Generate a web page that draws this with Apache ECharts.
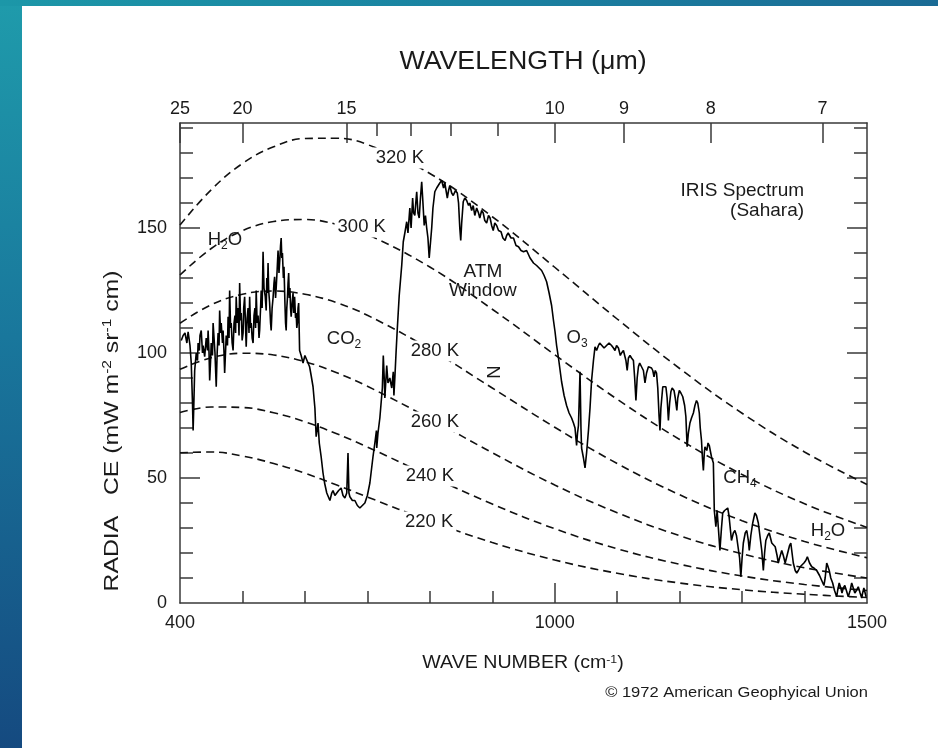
<!DOCTYPE html>
<html>
<head>
<meta charset="utf-8">
<script src="https://cdn.jsdelivr.net/npm/echarts@6/dist/echarts.min.js"></script>
<style>
html,body{margin:0;padding:0;width:938px;height:748px;overflow:hidden;}
body{position:relative;background:linear-gradient(180deg,#1f9bab 0%,#19779c 45%,#154a80 100%);}
#topband{position:absolute;left:0;top:0;width:938px;height:6px;background:linear-gradient(90deg,#1c97a8 0%,#1a82a1 50%,#1a6b95 100%);}
#panel{position:absolute;left:22px;top:6px;width:916px;height:742px;background:#ffffff;}
#chart{position:absolute;left:0;top:0;width:938px;height:748px;}
</style>
</head>
<body>
<div id="topband"></div>
<div id="panel"></div>
<div id="chart"></div>
<script>
// ---------------- DATA ----------------
// Blackbody reference curves (radiance)
const planckNu = [400,450,500,550,600,650,700,800,900,1000,1100,1200,1300,1400,1500];
const curve320 = [151.2,165.3,175.8,182.5,185.8,185.9,183.4,171.8,154.5,134.3,113.6,93.8,75.9,60.4,47.4];
const curve300 = [131.2,141.8,148.9,152.6,153.4,151.5,147.4,134.4,117.5,99.3,81.5,65.4,51.4,39.7,30.2];
const curve280 = [111.9,119.3,123.5,124.8,123.5,120.2,115.1,101.6,86.0,70.3,55.8,43.3,32.9,24.6,18.1];
const curve260 = [93.5,98.1,99.9,99.2,96.5,92.2,86.7,73.8,60.1,47.2,36.1,26.9,19.7,14.1,10.0];
const curve240 = [76.2,78.4,78.2,76.1,72.5,67.8,62.4,50.8,39.6,29.7,21.7,15.5,10.8,7.4,5.0];
const curve220 = [60.1,60.4,58.8,55.8,51.9,47.3,42.4,32.8,24.2,17.2,11.9,8.0,5.3,3.5,2.2];
const curveSet = [curve320, curve300, curve280, curve260, curve240, curve220];
const curveLabels = ['320 K','300 K','280 K','260 K','240 K','220 K'];
const curveLabelNu = [752, 691, 808, 808, 800, 799];
const curveLabelVal = [178.0, 150.4, 100.8, 72.4, 50.8, 32.4];

// IRIS spectrum (Sahara)
const specNu = [402,405,408,411,413,416,418,420,421,422,423.5,426,428,429,431,432,434,436,437,439.5,442,444,445,446.5,447.5,449,450,452,453,455,456,458,459.5,461,462.5,463.5,465,466,468,469,470.5,471.5,473,474,476,477,478.5,479.5,481,482,483.5,485,486.5,488,489,490,491.5,493,494.5,495.5,497,498,499.5,501,502,503.5,505,506,507.5,509,510.5,511.5,513,514,515.5,517,518.5,520,521,522,523.5,525,526.5,527.5,529,530,531.5,533,534.5,536.5,538,539,540,541,542,543.5,545,546,547.5,549,550.5,551.5,553,554,555.5,557,558.5,560,561,562,563,564,565.5,566.5,567.5,568,569,570,571,572,573,574,575,576,577,578,579.5,581,582,583.5,585,586,587,588,589,590,591.5,594,597,600,602,605,607.5,610,613,616,618,621,623,626,629,631.5,635,640,643,645,648,650,654,658,661,664,667,669,670.5,672,676,680,684,688,692,696,700,704,709,712,714.5,715,717,720,722,724,725.5,727,728,731,733,736,739,741.5,742.5,744,746,748,751,755,757.5,760,763,765,768,770,772.5,774,776,777.5,779,781,783,785,787,789,791,793,795,797,799,801,803,805,808,811,813.5,816,819,822,824,826,828,830,832,835,837.5,841,844,846,848,849.5,851,853.5,856,859,862,864,867,869.5,872,875,878,880,883,885.5,888,891,894,896.5,899,901.5,904,907,910,914,917,920.5,923,925.5,930,934,938,942,946,950,955,960.5,966,971,975,979,983,987,991,995,998,1000.5,1003,1006,1011,1015,1019,1023,1027,1030,1032.5,1035,1036.5,1038,1040.5,1042,1043,1046,1048.5,1051,1054,1056.5,1059,1062,1064.5,1067,1070,1072,1075,1079,1083,1087,1091,1094,1096.5,1099,1102,1105,1107,1110,1112.5,1114,1116,1118,1120.5,1123,1126,1128,1130,1132,1134,1136,1139,1142,1144.5,1147,1150,1152,1155,1157,1159,1161,1163,1165,1167,1168.5,1170,1173,1176,1178,1180,1182,1184,1186,1188,1191,1193,1195.5,1197,1199.5,1202,1205,1208,1210,1212,1214,1216.5,1219,1222,1224.5,1227,1229,1231.5,1233,1235,1236.5,1238,1239.5,1240.5,1243.5,1245.5,1247.5,1249,1251,1254,1255.5,1258,1260,1262,1264.5,1267,1269,1272,1275,1277,1279,1281,1283,1286,1288.5,1291,1294,1296,1298,1300,1302,1305,1307.5,1310,1311.5,1314,1317,1320.5,1323,1326,1329,1331.5,1334,1336,1338,1341,1343.5,1345.5,1347.5,1350,1353,1356,1358,1360,1363.5,1366,1369,1371,1374,1376,1378,1380,1382,1385,1387.5,1390,1393,1396,1399,1402,1404.5,1408,1411.5,1415,1419.5,1424,1427.5,1431,1433,1435.5,1437,1439.5,1442,1445,1448,1451.5,1453,1455.5,1458,1460,1462,1464.5,1467,1470,1473,1475.5,1478,1480.5,1483,1486,1489,1491.5,1493,1495,1497,1498.5];
const specVal = [105,107,108,104,108.5,103,96,80,69,78,93,100,97,104,101,107,109,100,103,98.5,106,101,109,100,89,97,104,99,112,104,100,86.5,100,108,103,117,108,112,104,109,100,92,101,107,103,114.5,106,125,110,112,104,101,112,115,108,122.5,112,118,107,128,113,116,105,108,118,122.5,110,102.5,114,118,108,122.5,110,112,106,104,115,118,110,125,112,115,106,109,118,125,118,140.5,126,122.5,117,130,124,136,125,120,112,109,118,122,128,130.5,122,126,133,141,132,138,143,146,138,140,130,134.5,125,120,112,109,118,122,128,132,122,126,118,114.5,120,124,116,122.5,114,116,110,112,118,120,101,99,96,99,98.5,96,94.5,91,86.5,78,66.5,72,64,58.5,52,48,44,41,44,45,43,42.5,45,46,43,42,44,60,44,42.5,41,41,39,38,39,40,43,48,58.5,64,69,62,68,74,80,86,99,90,82,95,88,90,86,92.5,83,90,100.5,110,123,135,144.5,148,152.5,148,158,150,162,156,155,160,164.5,156,154,162,168.5,160,151,155,150,146,138,144,150,158,164.5,166,167,168,169,166,168,165,162,165,167,164,163,165,164,160,150,145,152,160.5,162,161,159,160,157,159,155,158,156,154,157,156,153,152,155,154,151,149,152,151,149,148.5,146,145,147,148,146,146,143,142.5,141,140.5,141,138,136,135,134,133,131,128.5,124,119,113,108.5,103,98,88.5,83,79,76,74,72,70,63,68,71,92.5,70,62,58,54,60,69,78,89,97,102.5,101,103,104,104,102,103,104,103,102,101,103,102,99,100,101,100.5,97,93,98,99,98,97,90,81,90,94.5,96,96,93,88,92,94.5,95,94,93,90.5,93,92,86,75,69,78,86.5,87,86.5,82,73,80,84.5,86,85,82,77,82,85,84,82.5,79,74.5,62.5,68,72,74,76,79,81,80,76,70,65,58,53,60,62.5,61,64,63,61,58.5,56,37,30.5,37,30,21,30,36,37,37,38,35,30,25,28,29,27,26.5,18,10.5,18,24,28,29,25,21,27,32,36,35,32,26,21,13,20,25,27,28,26,24,24,22.5,19,16,18,21,19,16,18,21,23,24,20,16,13,12,13,14.5,15,16,17,18.5,16,14.5,14,13,11,9,7,10,16,15,13,10,8,5,2.5,5,8,6,4,6,7,5,2.5,5,8,6,4,5,6.5,4,2,4,6,4,2.5];

// Axis ticks / labels
const waveNumberLabels = [400, 1000, 1500];
const waveNumberMinor = [500,600,700,800,900,1100,1200,1300,1400];
const waveNumberMajor = [1000];
const wavelengthMajor = [25,20,15,10,9,8,7];
const wavelengthMinor = [14,13,12,11];
const radianceLabels = [0,50,100,150];
const radianceMajor = [50,100,150];
const radianceMinor = [10,20,30,40,60,70,80,90,110,120,130,140,160,170,180,190];

// Text annotations inside the plot
const noteTexts = ['{n|H}{s|2}{n|O}','{n|CO}{s|2}','ATM\nWindow','{n|O}{s|3}','IRIS Spectrum\n(Sahara)','{n|CH}{s|4}','{n|H}{s|2}{n|O}','N'];
const noteNu = [472, 662.6, 885, 1035.7, 1399.2, 1296.7, 1437.6, 904.4];
const noteVal = [145.2, 105.6, 128.6, 106.2, 160.8, 50.2, 29.0, 92.4];

// ---------------- CHART ----------------
const FONT = '"Liberation Sans", Arial, Helvetica, sans-serif';
const INK = '#1a1a1a';
const AXC = '#3a3a3a';
const chart = echarts.init(document.getElementById('chart'), null, {renderer: 'canvas'});

const toNu = l => 10000 / l;
const wlMajorNu = wavelengthMajor.map(toNu);
const wlMinorNu = wavelengthMinor.map(toNu);

function pairs(xs, ys) { return xs.map((x, i) => [x, ys[i]]); }

const subRich = {
  n: {fontSize: 18.5, fontFamily: FONT, color: INK, opacity: 1, verticalAlign: 'middle', lineHeight: 24, textBorderWidth: 0},
  s: {fontSize: 12, fontFamily: FONT, color: INK, opacity: 1, verticalAlign: 'bottom', lineHeight: 24, textBorderWidth: 0}
};
const supRich = {
  n: {fontSize: 17.5, fontFamily: FONT, fill: INK, color: INK, verticalAlign: 'middle', lineHeight: 18},
  p: {fontSize: 11, fontFamily: FONT, fill: INK, color: INK, verticalAlign: 'top', lineHeight: 18}
};
const yRich = {
  n: {fontSize: 20, fontFamily: FONT, fill: INK, color: INK, verticalAlign: 'middle', lineHeight: 21},
  p: {fontSize: 12.5, fontFamily: FONT, fill: INK, color: INK, verticalAlign: 'top', lineHeight: 21}
};

const noLine = {show: false, onZero: false};
const baseX = {type: 'value', min: 400, max: 1500, gridIndex: 0, splitLine: {show: false}, axisPointer: {show: false}};
const baseY = {type: 'value', min: 0, max: 192, gridIndex: 0, splitLine: {show: false}, axisPointer: {show: false}};
const tickStyle = {color: AXC, width: 1.5};
const lineOn = {show: true, onZero: false, lineStyle: {color: AXC, width: 1.5}};

const xAxes = [
  Object.assign({}, baseX, {
    position: 'bottom', axisLine: lineOn,
    axisTick: {show: true, inside: true, length: 12, customValues: waveNumberMinor, lineStyle: tickStyle},
    axisLabel: {show: true, customValues: waveNumberLabels, margin: 11, fontSize: 18, fontFamily: FONT, color: INK,
      formatter: v => String(v)}
  }),
  Object.assign({}, baseX, {
    position: 'bottom', axisLine: noLine,
    axisTick: {show: true, inside: true, length: 20, customValues: waveNumberMajor, lineStyle: tickStyle},
    axisLabel: {show: false}
  }),
  Object.assign({}, baseX, {
    position: 'top', axisLine: lineOn,
    axisTick: {show: true, inside: true, length: 20, customValues: wlMajorNu, lineStyle: tickStyle},
    axisLabel: {show: true, customValues: wlMajorNu, margin: 5, fontSize: 18, fontFamily: FONT, color: INK,
      formatter: v => { const i = wlMajorNu.findIndex(n => Math.abs(n - v) < 0.01); return i >= 0 ? String(wavelengthMajor[i]) : ''; }}
  }),
  Object.assign({}, baseX, {
    position: 'top', axisLine: noLine,
    axisTick: {show: true, inside: true, length: 13, customValues: wlMinorNu, lineStyle: tickStyle},
    axisLabel: {show: false}
  })
];

const yAxes = [
  Object.assign({}, baseY, {
    position: 'left', axisLine: lineOn,
    axisTick: {show: true, inside: true, length: 13, customValues: radianceMinor, lineStyle: tickStyle},
    axisLabel: {show: true, customValues: radianceLabels, margin: 13, fontSize: 18, fontFamily: FONT, color: INK,
      formatter: v => String(v)}
  }),
  Object.assign({}, baseY, {
    position: 'left', axisLine: noLine,
    axisTick: {show: true, inside: true, length: 20, customValues: radianceMajor, lineStyle: tickStyle},
    axisLabel: {show: false}
  }),
  Object.assign({}, baseY, {
    position: 'right', axisLine: lineOn,
    axisTick: {show: true, inside: true, length: 13, customValues: radianceMinor, lineStyle: tickStyle},
    axisLabel: {show: false}
  }),
  Object.assign({}, baseY, {
    position: 'right', axisLine: noLine,
    axisTick: {show: true, inside: true, length: 20, customValues: radianceMajor, lineStyle: tickStyle},
    axisLabel: {show: false}
  })
];

const series = [];
curveSet.forEach((c, i) => {
  series.push({
    type: 'line', name: curveLabels[i], xAxisIndex: 0, yAxisIndex: 0,
    data: pairs(planckNu, c), smooth: 0.4, showSymbol: false, symbol: 'none', z: 2,
    lineStyle: {color: '#111', width: 1.6, type: [8, 5]}, silent: true
  });
});

series.push({
  type: 'scatter', name: 'curve labels', xAxisIndex: 0, yAxisIndex: 0, z: 3, symbolSize: 0, silent: true,
  itemStyle: {color: '#ffffff', opacity: 1},
  data: curveLabels.map((t, i) => ({
    value: [curveLabelNu[i], curveLabelVal[i]],
    label: {show: true, position: 'inside', formatter: t, fontSize: 18.5, fontFamily: FONT, color: INK, opacity: 1,
      textBorderWidth: 0, backgroundColor: '#ffffff', padding: [1, 3]}
  }))
});

series.push({
  type: 'line', name: 'IRIS Spectrum', xAxisIndex: 0, yAxisIndex: 0, z: 4,
  data: pairs(specNu, specVal), showSymbol: false, symbol: 'none', smooth: false,
  lineStyle: {color: '#000', width: 1.6}, silent: true
});

series.push({
  type: 'scatter', name: 'notes', xAxisIndex: 0, yAxisIndex: 0, z: 5, symbolSize: 0, silent: true,
  itemStyle: {color: '#ffffff', opacity: 1},
  data: noteTexts.map((t, i) => {
    const isRich = t.indexOf('{') === 0;
    const lab = {show: true, formatter: t, fontSize: 18.5, fontFamily: FONT, color: INK, opacity: 1, lineHeight: 19, textBorderWidth: 0};
    if (isRich) { lab.rich = subRich; lab.position = 'inside'; }
    else if (t.indexOf('IRIS') === 0) { lab.position = 'left'; lab.distance = 0; lab.align = 'right'; lab.lineHeight = 20; lab.fontSize = 19; }
    else if (t === 'N') { lab.position = 'inside'; lab.rotate = 90; }
    else { lab.position = 'inside'; lab.align = 'center'; lab.fontSize = 19; }
    return {value: [noteNu[i], noteVal[i]], label: lab};
  })
});

chart.setOption({
  animation: false,
  backgroundColor: 'transparent',
  grid: {left: 180, right: 71, top: 123, bottom: 145, containLabel: false},
  xAxis: xAxes,
  yAxis: yAxes,
  series: series,
  graphic: [
    {type: 'text', x: 523, y: 62, scaleX: 1.07, silent: true,
      style: {text: 'WAVELENGTH (\u03bcm)', fontSize: 25, fontFamily: FONT, fill: INK, align: 'center', verticalAlign: 'middle'}},
    {type: 'text', x: 523, y: 663, scaleX: 1.12, silent: true,
      style: {text: '{n|WAVE NUMBER (cm}{p|-1}{n|)}', rich: supRich, fontSize: 17.5, fontFamily: FONT, fill: INK, align: 'center', verticalAlign: 'middle'}},
    {type: 'text', x: 868, y: 693, scaleX: 1.18, silent: true,
      style: {text: '\u00a9 1972 American Geophyical Union', fontSize: 14, fontFamily: FONT, fill: INK, align: 'right', verticalAlign: 'middle'}},
    {type: 'text', x: 112, y: 431, rotation: Math.PI / 2, scaleX: 1.24, silent: true,
      style: {text: '{n|RADIA   CE (mW m}{p|-2}{n| sr}{p|-1}{n| cm)}', rich: yRich, fontSize: 20, fontFamily: FONT, fill: INK, align: 'center', verticalAlign: 'middle'}}
  ]
});
</script>
</body>
</html>
